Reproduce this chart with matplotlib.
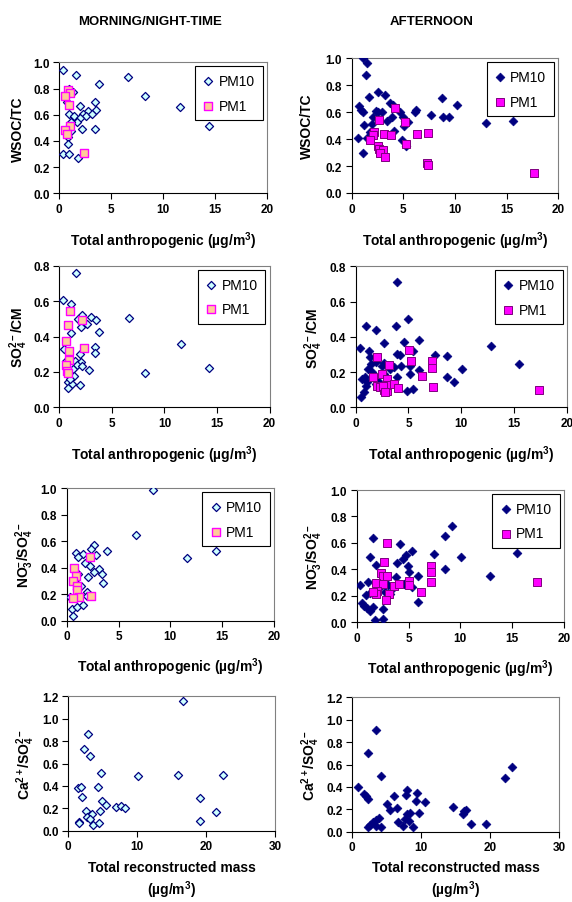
import matplotlib
matplotlib.use("Agg")
import matplotlib.pyplot as plt

plt.rcParams['font.family'] = ['Liberation Sans', 'DejaVu Sans']
plt.rcParams['mathtext.fontset'] = 'custom'
plt.rcParams['mathtext.rm'] = 'Liberation Sans:bold'
plt.rcParams['mathtext.it'] = 'Liberation Sans:bold'
plt.rcParams['mathtext.bf'] = 'Liberation Sans:bold'
plt.rcParams['mathtext.default'] = 'rm'

# ---- WSOC/TC ----
mn_wsoc_pm10_x = [0.4, 1.6, 6.65, 3.83, 8.3, 11.64, 14.4, 0.96, 1.29, 0.71, 2.0, 3.4, 3.5, 2.8, 2.3, 2.57, 3.15, 0.96, 1.41, 2.0,
                  1.74, 1.13, 2.15, 1.13, 3.4, 0.64, 0.87, 0.87, 0.39, 0.93, 1.83, 0.71]
mn_wsoc_pm10_y = [0.94, 0.90, 0.885, 0.837, 0.745, 0.66, 0.51, 0.80, 0.77, 0.695, 0.665, 0.70, 0.636, 0.628, 0.603, 0.588, 0.605, 0.603, 0.59, 0.575,
                  0.547, 0.542, 0.49, 0.478, 0.49, 0.478, 0.427, 0.377, 0.298, 0.303, 0.267, 0.486]
mn_wsoc_pm1_x = [0.87, 1.03, 0.58, 0.96, 1.03, 0.55, 0.71, 2.38]
mn_wsoc_pm1_y = [0.79, 0.763, 0.745, 0.677, 0.511, 0.483, 0.453, 0.305]

af_wsoc_pm10_x = [1.06, 1.45, 1.39, 0.74, 0.9, 1.13, 0.65, 1.71, 2.58, 3.23, 3.7, 4.0, 1.19, 1.06, 2.03, 2.58, 2.9, 2.35, 1.94, 1.77,
                  1.45, 3.45, 3.94, 4.13, 4.68, 5.0, 5.48, 4.9, 5.26, 6.1, 6.2, 7.65, 8.7, 8.8, 9.4, 10.2, 13.0, 15.6, 5.06, 5.16]
af_wsoc_pm10_y = [1.0, 0.965, 0.879, 0.644, 0.616, 0.604, 0.406, 0.715, 0.752, 0.73, 0.666, 0.653, 0.505, 0.295, 0.567, 0.604, 0.60, 0.609, 0.512, 0.45,
                  0.406, 0.532, 0.567, 0.463, 0.60, 0.567, 0.53, 0.396, 0.35, 0.60, 0.616, 0.58, 0.703, 0.567, 0.562, 0.653, 0.52, 0.532, 0.5, 0.537]
af_wsoc_pm1_x = [4.19, 2.68, 5.16, 2.19, 2.1, 1.77, 3.13, 3.77, 2.5, 2.68, 3.0, 2.74, 3.23, 5.26, 6.35, 7.42, 7.26, 7.42, 17.6]
af_wsoc_pm1_y = [0.631, 0.542, 0.53, 0.455, 0.43, 0.396, 0.438, 0.43, 0.351, 0.327, 0.32, 0.295, 0.265, 0.364, 0.438, 0.446, 0.22, 0.208, 0.149]

# ---- SO4/CM ----
mn_so4_pm10_x = [1.58, 0.38, 1.11, 6.6, 11.55, 8.2, 14.24, 2.2, 3.0, 3.48, 1.8, 2.66, 2.1, 3.8, 1.11, 3.39, 3.39, 0.44, 1.96, 0.6,
                 1.49, 2.06, 1.71, 2.12, 2.78, 1.33, 0.85, 1.39, 0.85, 1.17, 0.85, 1.96, 1.0]
mn_so4_pm10_y = [0.759, 0.608, 0.584, 0.503, 0.358, 0.194, 0.222, 0.523, 0.508, 0.495, 0.499, 0.471, 0.456, 0.427, 0.42, 0.343, 0.305, 0.33, 0.301, 0.264,
                 0.264, 0.254, 0.239, 0.232, 0.211, 0.217, 0.188, 0.179, 0.141, 0.132, 0.107, 0.126, 0.16]
mn_so4_pm1_x = [1.04, 2.2, 0.85, 0.6, 0.92, 0.95, 2.31, 0.6, 0.7, 0.85]
mn_so4_pm1_y = [0.542, 0.493, 0.467, 0.377, 0.318, 0.269, 0.337, 0.239, 0.203, 0.194]

af_so4_pm10_x = [3.89, 0.98, 1.93, 3.85, 4.99, 0.41, 1.3, 2.69, 4.58, 6.0, 3.95, 4.2, 5.47, 7.52, 8.63, 12.83, 15.45, 10.05, 8.63, 9.35,
                 6.0, 5.15, 4.83, 5.4, 1.45, 1.2, 1.93, 2.5, 2.69, 3.25, 3.63, 4.3, 5.15, 0.57, 0.88, 1.1, 0.98, 0.47, 0.79, 1.93,
                 3.89, 2.72, 1.52, 1.36, 2.12, 2.15]
af_so4_pm10_y = [0.709, 0.463, 0.439, 0.463, 0.501, 0.337, 0.318, 0.363, 0.372, 0.382, 0.303, 0.299, 0.318, 0.299, 0.293, 0.346, 0.246, 0.217, 0.174, 0.142,
                 0.212, 0.189, 0.091, 0.104, 0.246, 0.217, 0.255, 0.236, 0.25, 0.217, 0.231, 0.236, 0.236, 0.161, 0.17, 0.142, 0.123, 0.06, 0.085, 0.132,
                 0.17, 0.189, 0.199, 0.284, 0.151, 0.132]
af_so4_pm1_x = [2.05, 5.09, 5.24, 3.19, 7.27, 7.27, 6.26, 7.36, 17.4, 1.67, 2.46, 2.94, 1.99, 2.3, 2.72, 3.0, 2.84, 3.63, 4.04, 2.62, 2.78]
af_so4_pm1_y = [0.287, 0.327, 0.265, 0.242, 0.265, 0.223, 0.176, 0.113, 0.098, 0.174, 0.189, 0.161, 0.123, 0.113, 0.098, 0.095, 0.127, 0.132, 0.11, 0.123, 0.085]

# ---- NO3/SO4 ----
mn_no3_pm10_x = [8.3, 6.69, 11.64, 14.37, 3.86, 2.64, 2.32, 2.83, 0.9, 1.61, 1.13, 1.77, 2.25, 3.15, 2.64, 3.38, 2.03, 3.47, 1.06, 1.38,
                 2.0, 2.0, 0.32, 0.48, 0.96, 1.61, 0.58, 0.8, 0.96]
mn_no3_pm10_y = [0.99, 0.65, 0.471, 0.529, 0.529, 0.574, 0.542, 0.499, 0.509, 0.504, 0.479, 0.436, 0.411, 0.39, 0.365, 0.353, 0.332, 0.282, 0.353, 0.259,
                 0.214, 0.189, 0.176, 0.088, 0.106, 0.118, 0.033, 0.29, 0.24]
mn_no3_pm1_x = [2.25, 0.71, 0.9, 0.58, 1.03, 0.96, 1.19, 0.64, 2.35]
mn_no3_pm1_y = [0.479, 0.398, 0.34, 0.302, 0.264, 0.232, 0.181, 0.171, 0.184]

af_no3_pm10_x = [9.23, 8.52, 7.49, 10.03, 15.5, 12.83, 8.52, 1.54, 4.18, 1.29, 1.86, 0.32, 1.13, 0.9, 0.48, 0.71, 0.96, 1.29, 1.61, 1.77,
                 2.51, 2.51, 3.92, 4.5, 4.76, 5.34, 4.98, 5.08, 3.76, 5.37, 5.88, 5.88, 4.57, 3.05, 2.25, 3.2, 2.73, 3.54, 1.29]
af_no3_pm10_y = [0.725, 0.655, 0.516, 0.496, 0.524, 0.353, 0.403, 0.637, 0.592, 0.496, 0.436, 0.282, 0.302, 0.207, 0.146, 0.126, 0.106, 0.088, 0.113, 0.02,
                 0.025, 0.101, 0.448, 0.479, 0.509, 0.542, 0.423, 0.378, 0.34, 0.264, 0.353, 0.151, 0.29, 0.282, 0.264, 0.214, 0.227, 0.257, 0.219]
af_no3_pm1_x = [2.89, 2.67, 2.35, 2.51, 2.96, 1.86, 2.57, 3.6, 4.12, 5.08, 5.08, 1.99, 1.86, 3.15, 2.8, 1.54, 6.17, 7.14, 7.14, 7.14, 17.36]
af_no3_pm1_y = [0.6, 0.458, 0.373, 0.353, 0.348, 0.297, 0.29, 0.272, 0.29, 0.315, 0.282, 0.239, 0.214, 0.214, 0.169, 0.227, 0.227, 0.423, 0.378, 0.307, 0.307]

# ---- Ca/SO4 vs total reconstructed mass ----
mn_ca_x = [16.6, 2.9, 2.27, 3.14, 4.74, 10.16, 15.96, 22.4, 1.45, 1.84, 4.26, 1.98, 19.1, 4.93, 5.47, 6.92, 7.64, 8.22, 2.56, 4.6,
           3.39, 2.76, 3.14, 21.43, 19.1, 1.55, 1.6, 3.63, 4.5]
mn_ca_y = [1.155, 0.864, 0.73, 0.67, 0.515, 0.491, 0.5, 0.5, 0.378, 0.393, 0.387, 0.298, 0.289, 0.268, 0.229, 0.214, 0.223, 0.2, 0.173, 0.173,
           0.149, 0.125, 0.104, 0.164, 0.089, 0.074, 0.066, 0.054, 0.068]
af_ca_x = [3.43, 2.22, 4.1, 0.87, 1.69, 1.98, 2.32, 4.98, 5.46, 6.04, 6.52, 7.97, 7.78, 9.32, 9.23, 10.48, 9.71, 6.57, 7.87, 8.36,
           7.63, 8.26, 7.39, 8.84, 3.43, 3.91, 3.04, 2.56, 2.22, 3.43, 4.1, 14.64, 16.18, 16.47, 16.09, 17.15, 19.37, 22.1, 23.2]
af_ca_y = [0.911, 0.703, 0.5, 0.396, 0.337, 0.316, 0.292, 0.247, 0.197, 0.322, 0.211, 0.372, 0.328, 0.342, 0.277, 0.268, 0.167, 0.089, 0.158, 0.164,
           0.113, 0.098, 0.054, 0.039, 0.107, 0.119, 0.083, 0.063, 0.045, 0.054, 0.039, 0.217, 0.182, 0.197, 0.158, 0.068, 0.066, 0.479, 0.575]

W, H = 572, 903
fig = plt.figure(figsize=(W / 100, H / 100), dpi=100)

NAVY = '#000080'
MAG = '#ff00ff'
TICK_FS = 8.5
LAB_FS = 10


def make_ax(l, r, t, b):
    ax = fig.add_axes([l / W, 1 - b / H, (r - l) / W, (b - t) / H])
    for s in ['top', 'right']:
        ax.spines[s].set_color('#808080')
        ax.spines[s].set_linewidth(0.8)
    for s in ['left', 'bottom']:
        ax.spines[s].set_color('black')
        ax.spines[s].set_linewidth(0.8)
    ax.tick_params(direction='out', length=4, width=0.8, labelsize=TICK_FS, pad=3)
    return ax, (b - t), (r - l)


def style_ticks(ax):
    for lab in ax.get_xticklabels() + ax.get_yticklabels():
        lab.set_fontweight('bold')


def labels(ax, h, w, xlab, xlab_px, ylab, ylab_px):
    ax.set_xlabel(xlab, fontsize=LAB_FS, fontweight='bold', linespacing=1.3)
    ax.xaxis.label.set_va('center')
    ax.xaxis.set_label_coords(0.5, -xlab_px / h)
    ax.set_ylabel(ylab, fontsize=LAB_FS, fontweight='bold')
    ax.yaxis.label.set_va('center')
    ax.yaxis.set_label_coords(-ylab_px / w, 0.5)


def legend(ax):
    lg = ax.legend(loc='upper right', fontsize=10, frameon=True, fancybox=False,
                   edgecolor='black', framealpha=1, borderaxespad=0.3,
                   handlelength=0.8, handletextpad=0.35, borderpad=0.55, labelspacing=0.75)
    lg.get_frame().set_linewidth(0.8)


XL_ANTH = 'Total anthropogenic (µg/m$^{3}$)'
XL_MASS = 'Total reconstructed mass\n(µg/m$^{3}$)'
YL_WSOC = 'WSOC/TC'
YL_SO4 = 'SO$_{4}^{2-}$/CM'
YL_NO3 = 'NO$_{3}^{-}$/SO$_{4}^{2-}$'
YL_CA = 'Ca$^{2+}$/SO$_{4}^{2-}$'

open_d = dict(marker='D', s=17, facecolor='#ccffff', edgecolor=NAVY, linewidths=0.9, zorder=3)
open_s = dict(marker='s', s=26, facecolor='#ffcc99', edgecolor=MAG, linewidths=1.0, zorder=4)
fill_d = dict(marker='D', s=20, facecolor=NAVY, edgecolor=NAVY, linewidths=0.5, zorder=3)
fill_s = dict(marker='s', s=26, facecolor=MAG, edgecolor='#800080', linewidths=0.7, zorder=4)

panels = [
    # (box l, r, t, b), pm10 x/y, pm1 x/y, ymax, ystep, left column?, ylabel, xlabel offset, ylabel offset
    ((59.3, 266.7, 63.3, 194.3), mn_wsoc_pm10_x, mn_wsoc_pm10_y, mn_wsoc_pm1_x, mn_wsoc_pm1_y, 1.0, 0.2, True, YL_WSOC, 47, 41),
    ((351.7, 558.3, 59.3, 194.0), af_wsoc_pm10_x, af_wsoc_pm10_y, af_wsoc_pm1_x, af_wsoc_pm1_y, 1.0, 0.2, False, YL_WSOC, 47, 45),
    ((59.3, 269.5, 266.7, 408.3), mn_so4_pm10_x, mn_so4_pm10_y, mn_so4_pm1_x, mn_so4_pm1_y, 0.8, 0.2, True, YL_SO4, 47, 41),
    ((355.7, 566.7, 267.3, 408.3), af_so4_pm10_x, af_so4_pm10_y, af_so4_pm1_x, af_so4_pm1_y, 0.8, 0.2, False, YL_SO4, 47, 42),
    ((66.7, 274.0, 489.3, 621.7), mn_no3_pm10_x, mn_no3_pm10_y, mn_no3_pm1_x, mn_no3_pm1_y, 1.0, 0.2, True, YL_NO3, 46, 42),
    ((356.7, 564.0, 491.0, 623.3), af_no3_pm10_x, af_no3_pm10_y, af_no3_pm1_x, af_no3_pm1_y, 1.0, 0.2, False, YL_NO3, 46, 43),
]

for box, px, py, qx, qy, ymax, ystep, left, ylab, xoff, yoff in panels:
    ax, h, w = make_ax(*box)
    if left:
        ax.scatter(px, py, label='PM10', **open_d)
        ax.scatter(qx, qy, label='PM1', **open_s)
    else:
        ax.scatter(px, py, label='PM10', **fill_d)
        ax.scatter(qx, qy, label='PM1', **fill_s)
    ax.set_xlim(0, 20)
    ax.set_ylim(0, ymax)
    ax.set_xticks([0, 5, 10, 15, 20])
    n = int(round(ymax / ystep))
    ax.set_yticks([i * ystep for i in range(n + 1)])
    ax.yaxis.set_major_formatter(matplotlib.ticker.FormatStrFormatter('%.1f'))
    style_ticks(ax)
    legend(ax)
    labels(ax, h, w, XL_ANTH, xoff, ylab, yoff)

for box, cx, cy, style, xoff, yoff in [((68.3, 275.0, 697.3, 831.7), mn_ca_x, mn_ca_y, open_d, 49, 43),
                                       ((352.3, 559.3, 698.3, 832.7), af_ca_x, af_ca_y, fill_d, 48, 42)]:
    ax, h, w = make_ax(*box)
    ax.scatter(cx, cy, **style)
    ax.set_xlim(0, 30)
    ax.set_ylim(0, 1.2)
    ax.set_xticks([0, 10, 20, 30])
    ax.set_yticks([0, 0.2, 0.4, 0.6, 0.8, 1.0, 1.2])
    ax.yaxis.set_major_formatter(matplotlib.ticker.FormatStrFormatter('%.1f'))
    style_ticks(ax)
    labels(ax, h, w, XL_MASS, xoff, YL_CA, yoff)

fig.text(150 / W, 1 - 22 / H, 'MORNING/NIGHT-TIME', ha='center', va='center', fontsize=9.5, fontweight='bold')
fig.text(432 / W, 1 - 22 / H, 'AFTERNOON', ha='center', va='center', fontsize=9.5, fontweight='bold')

fig.savefig('out.png', dpi=100)
